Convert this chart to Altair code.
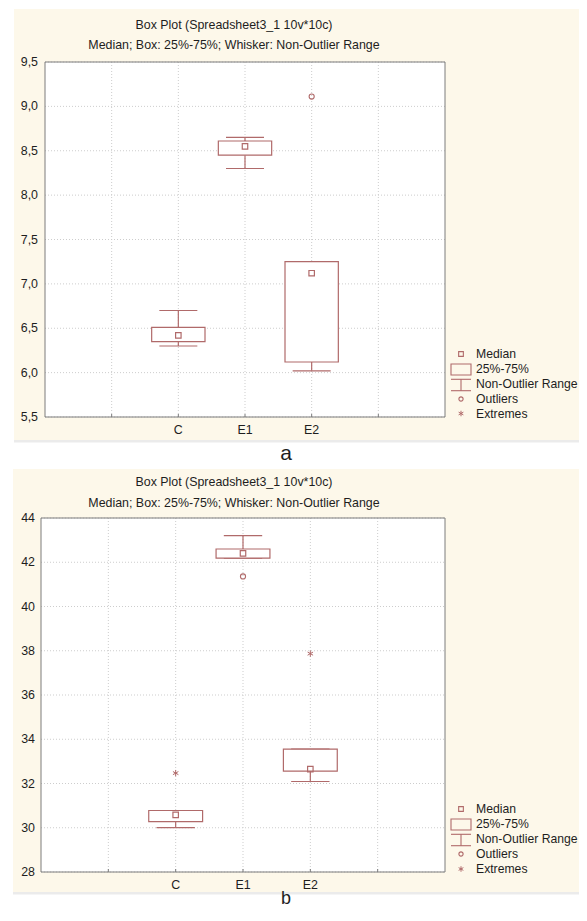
import altair as alt
import pandas as pd

# ---------------- data ----------------
categories = ["C", "E1", "E2"]

# panel a
a_whisker_low = [6.30, 8.30, 6.02]
a_q1 = [6.35, 8.45, 6.12]
a_median = [6.42, 8.55, 7.12]
a_q3 = [6.51, 8.61, 7.25]
a_whisker_high = [6.70, 8.65, 7.25]
a_outlier_cat = ["E2"]
a_outlier_val = [9.11]
a_extreme_cat = []
a_extreme_val = []
a_y_ticks = [5.5, 6.0, 6.5, 7.0, 7.5, 8.0, 8.5, 9.0, 9.5]
a_y_labels = ["5,5", "6,0", "6,5", "7,0", "7,5", "8,0", "8,5", "9,0", "9,5"]

# panel b
b_whisker_low = [30.01, 42.19, 32.09]
b_q1 = [30.28, 42.19, 32.56]
b_median = [30.58, 42.40, 32.65]
b_q3 = [30.78, 42.60, 33.55]
b_whisker_high = [30.78, 43.20, 33.55]
b_outlier_cat = ["E1"]
b_outlier_val = [41.36]
b_extreme_cat = ["C", "E2"]
b_extreme_val = [32.47, 37.87]
b_y_ticks = [28, 30, 32, 34, 36, 38, 40, 42, 44]
b_y_labels = ["28", "30", "32", "34", "36", "38", "40", "42", "44"]

x_grid_positions = [1, 2, 3, 4, 5]
legend_labels = ["Median", "25%-75%", "Non-Outlier Range", "Outliers", "Extremes"]
title_line1 = "Box Plot (Spreadsheet3_1 10v*10c)"
title_line2 = "Median; Box: 25%-75%; Whisker: Non-Outlier Range"

# ---------------- styles / layout ----------------
BOX = "#b06a6a"
TEXT = "#1e1e1e"
BEIGE = "#fdf8ea"
GRID = "#cdcdcd"
FRAME = "#7c7c7c"
FONT = "Liberation Sans"
FS = 12.4
SW = 1.2
ASTERISK = "M0,-1L0,1M-0.866,-0.5L0.866,0.5M-0.866,0.5L0.866,-0.5"
CANVAS_W, CANVAS_H = 571, 901

one = pd.DataFrame({"k": [0]})


def pos_of(c):
    return categories.index(c) + 2


def deco_rect(x1, x2, y1, y2, **kw):
    return alt.Chart(one).mark_rect(**kw).encode(
        x=alt.value(x1), x2=alt.value(x2), y=alt.value(y1), y2=alt.value(y2))


def deco_text(txt, x, y, **kw):
    style = dict(font=FONT, fontSize=FS, color=TEXT)
    style.update(kw)
    return alt.Chart(one).mark_text(text=txt, **style).encode(x=alt.value(x), y=alt.value(y))


def panel_layers(lo, q1, med, q3, hi, out_c, out_v, ext_c, ext_v,
                 ydom, yticks, ylabels, px0, px1, py0, py1,
                 beige_x0, beige_y0, beige_y1, ylab_x, xlab_y,
                 title_y1, title_y2, legend_rows, caption, caption_y, caption_size):
    xs = alt.Scale(domain=[0, 6], range=[px0, px1], nice=False, zero=False)
    ys = alt.Scale(domain=ydom, range=[py1, py0], nice=False, zero=False)

    def X(f):
        return alt.X(f, type="quantitative", scale=xs, axis=None)

    def Y(f):
        return alt.Y(f, type="quantitative", scale=ys, axis=None)

    stats = pd.DataFrame({
        "cat": categories,
        "pos": [pos_of(c) for c in categories],
        "lo": lo, "q1": q1, "med": med, "q3": q3, "hi": hi,
    })
    yt = pd.DataFrame({"v": yticks, "lab": ylabels})
    xg = pd.DataFrame({"p": x_grid_positions})
    base = alt.Chart(stats)

    L = []
    # panel background, caption strip
    L.append(deco_rect(beige_x0, CANVAS_W, beige_y0, beige_y1, color=BEIGE))
    L.append(deco_rect(beige_x0, CANVAS_W, beige_y1, beige_y1 + 2.5, color="#ebebeb"))
    L.append(deco_rect(px0, px1, py0, py1, color="white"))
    # grid lines
    L.append(alt.Chart(yt).mark_rule(color=GRID, strokeDash=[1, 2], strokeWidth=1).encode(
        y=Y("v"), x=alt.value(px0), x2=alt.value(px1)))
    L.append(alt.Chart(xg).mark_rule(color=GRID, strokeDash=[1, 2], strokeWidth=1).encode(
        x=X("p"), y=alt.value(py0), y2=alt.value(py1)))
    L.append(alt.Chart(xg).mark_rule(color=FRAME, strokeWidth=1).encode(
        x=X("p"), y=alt.value(py1 - 3), y2=alt.value(py1)))
    # tick labels
    L.append(alt.Chart(yt).mark_text(font=FONT, fontSize=FS, color=TEXT, align="right",
                                     baseline="middle").encode(
        y=Y("v"), x=alt.value(ylab_x), text="lab:N"))
    L.append(base.mark_text(font=FONT, fontSize=FS, color=TEXT, align="center",
                            baseline="top").encode(
        x=X("pos"), y=alt.value(xlab_y), text="cat:N"))
    # whiskers
    L.append(base.mark_rule(color=BOX, strokeWidth=SW).encode(x=X("pos"), y=Y("q3"), y2="hi"))
    L.append(base.mark_rule(color=BOX, strokeWidth=SW).encode(x=X("pos"), y=Y("lo"), y2="q1"))
    for f in ["hi", "lo"]:
        L.append(base.mark_rule(color=BOX, strokeWidth=SW).transform_calculate(
            c1="datum.pos - 0.285", c2="datum.pos + 0.285").encode(x=X("c1"), x2="c2", y=Y(f)))
    # boxes
    L.append(base.mark_rect(fill="white", stroke=BOX, strokeWidth=SW).transform_calculate(
        b1="datum.pos - 0.4", b2="datum.pos + 0.4").encode(x=X("b1"), x2="b2", y=Y("q1"), y2="q3"))
    # medians
    L.append(base.mark_point(shape="square", size=30, filled=False, color=BOX,
                             strokeWidth=SW, opacity=1).encode(x=X("pos"), y=Y("med")))
    if out_c:
        od = pd.DataFrame({"pos": [pos_of(c) for c in out_c], "v": out_v})
        L.append(alt.Chart(od).mark_point(shape="circle", size=26, filled=False, color=BOX,
                                          strokeWidth=1.1, opacity=1).encode(x=X("pos"), y=Y("v")))
    if ext_c:
        ed = pd.DataFrame({"pos": [pos_of(c) for c in ext_c], "v": ext_v})
        L.append(alt.Chart(ed).mark_point(shape=ASTERISK, size=40, filled=False, color=BOX,
                                          strokeWidth=1.0, opacity=1).encode(x=X("pos"), y=Y("v")))
    # frame
    L.append(deco_rect(px0, px1, py0, py1, fill="transparent", stroke=FRAME, strokeWidth=1))

    # titles
    tcx = 226
    L.append(deco_text(title_line1, tcx, title_y1, align="center", baseline="middle"))
    L.append(deco_text(title_line2, tcx, title_y2, align="center", baseline="middle"))

    # legend
    sx, tx = 453, 468
    r = legend_rows
    for lbl, ry in zip(legend_labels, r):
        L.append(deco_text(lbl, tx, ry, align="left", baseline="middle", fontSize=12.2))
    L.append(alt.Chart(one).mark_point(shape="square", size=22, filled=False, color=BOX,
                                       strokeWidth=1.1, opacity=1).encode(
        x=alt.value(sx), y=alt.value(r[0])))
    L.append(deco_rect(sx - 10, sx + 10, r[1] - 5, r[1] + 6, fill="transparent",
                       stroke=BOX, strokeWidth=1.1))
    for yy in [r[2] - 4.7, r[2] + 6.7]:
        L.append(alt.Chart(one).mark_rule(color=BOX, strokeWidth=1.1).encode(
            x=alt.value(sx - 10), x2=alt.value(sx + 10), y=alt.value(yy)))
    L.append(alt.Chart(one).mark_rule(color=BOX, strokeWidth=1.1).encode(
        x=alt.value(sx), y=alt.value(r[2] - 4.7), y2=alt.value(r[2] + 6.7)))
    L.append(alt.Chart(one).mark_point(shape="circle", size=18, filled=False, color=BOX,
                                       strokeWidth=1.1, opacity=1).encode(
        x=alt.value(sx), y=alt.value(r[3])))
    L.append(alt.Chart(one).mark_point(shape=ASTERISK, size=30, filled=False, color=BOX,
                                       strokeWidth=1.0, opacity=1).encode(
        x=alt.value(sx), y=alt.value(r[4])))

    # caption
    L.append(deco_text(caption, 278, caption_y, fontSize=caption_size, align="center",
                       baseline="alphabetic"))
    return L


layers_a = panel_layers(
    a_whisker_low, a_q1, a_median, a_q3, a_whisker_high,
    a_outlier_cat, a_outlier_val, a_extreme_cat, a_extreme_val,
    [5.5, 9.5], a_y_ticks, a_y_labels,
    px0=37, px1=437, py0=54, py1=409,
    beige_x0=6, beige_y0=1, beige_y1=432, ylab_x=30, xlab_y=416,
    title_y1=17, title_y2=37, legend_rows=[346, 361, 376, 391, 405.5],
    caption="a", caption_y=452, caption_size=21)

layers_b = panel_layers(
    b_whisker_low, b_q1, b_median, b_q3, b_whisker_high,
    b_outlier_cat, b_outlier_val, b_extreme_cat, b_extreme_val,
    [28, 44], b_y_ticks, b_y_labels,
    px0=33, px1=437, py0=510, py1=864,
    beige_x0=5, beige_y0=461, beige_y1=884, ylab_x=27, xlab_y=871,
    title_y1=474, title_y2=495, legend_rows=[801, 816, 831, 846, 861],
    caption="b", caption_y=896, caption_size=18)

chart = alt.layer(*(layers_a + layers_b)).resolve_scale(
    x="independent", y="independent"
).properties(
    width=CANVAS_W, height=CANVAS_H,
    autosize=alt.AutoSizeParams(type="none"), padding=0
).configure(
    background="white"
).configure_view(
    stroke="transparent", fill="white"
)

chart.save("out.html", embed_options={"renderer": "svg", "actions": False})
